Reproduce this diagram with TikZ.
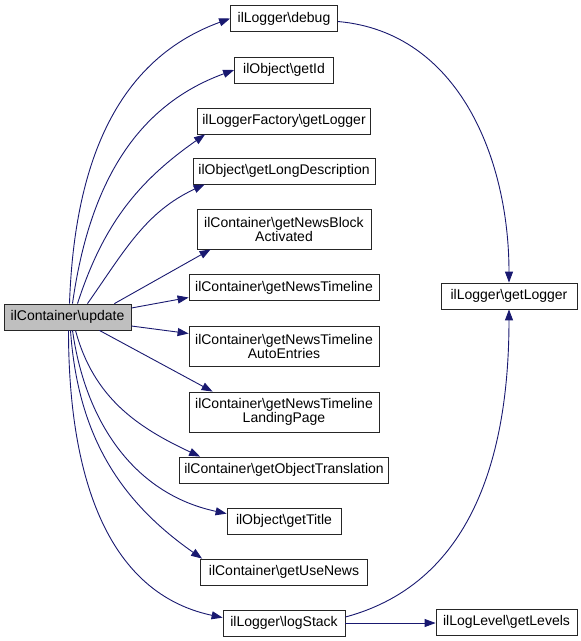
\documentclass[tikz,border=0pt]{standalone}
\usepackage{fontspec}
\setmainfont{Liberation Sans}
\usetikzlibrary{arrows.meta}
\definecolor{edgeblue}{HTML}{191970}

\begin{document}
\begin{tikzpicture}[
x=1pt, y=-1pt,
    F/.style = {rectangle, draw=black!85, fill=white,% boxes of the call graph
                line width=0.8pt, inner xsep=4pt, inner ysep=2pt,
                minimum height=26pt, align=center,
                font=\fontsize{14}{14}\selectfont},
    E/.style = {draw=edgeblue, line width=0.9pt,% calls
                -{Triangle[length=11pt,width=8pt]}},
                    ]
\useasboundingbox (0,0) rectangle (581,641);

\node[F, fill=black!25, minimum width=127pt] (update) at (67.5,317) {ilContainer\textbackslash update};

% called functions, top to bottom
\foreach \n/\y/\w/\h/\t in {
    debug/18.5/107/26/{ilLogger\textbackslash debug},
    getid/70/99/26/{ilObject\textbackslash getId},
    fac/121/173/26/{ilLoggerFactory\textbackslash getLogger},
    ld/171/182/26/{ilObject\textbackslash getLongDescription},
    nb/229/174/40/{ilContainer\textbackslash getNewsBlock\\Activated},
    nt/287.5/190/26/{ilContainer\textbackslash getNewsTimeline},
    ae/346.5/190/40/{ilContainer\textbackslash getNewsTimeline\\AutoEntries},
    lp/412/190/40/{ilContainer\textbackslash getNewsTimeline\\LandingPage},
    ot/470/209/26/{ilContainer\textbackslash getObjectTranslation},
    ti/521/114/26/{ilObject\textbackslash getTitle},
    un/572/167/26/{ilContainer\textbackslash getUseNews},
    ls/623/122/26/{ilLogger\textbackslash logStack}}
    \node[F, minimum width=\w, minimum height=\h] (\n) at (284,\y) {\t};

\node[F, minimum width=136pt] (gl) at (509,296) {ilLogger\textbackslash getLogger};
\node[F, minimum width=141pt] (lv) at (506.5,622) {ilLogLevel\textbackslash getLevels};

% calls of update
\draw[E] ([xshift=2pt]update.north) to[out=88,in=200] (debug.west);
\draw[E] ([xshift=5pt]update.north) to[out=82,in=200] (getid.west);
\draw[E] ([xshift=10pt]update.north) to[out=72,in=215] ([xshift=8pt]fac.south west);
\draw[E] ([xshift=20pt]update.north) to[out=55,in=205] ([xshift=12pt]ld.south west);
\draw[E] ([xshift=-17pt]update.north east) -- ([xshift=14pt]nb.south west);
\draw[E] ([yshift=9pt]update.east) -- ([yshift=-10pt]nt.west);
\draw[E] ([yshift=-9pt]update.east) -- ([yshift=13pt]ae.west);
\draw[E] ([xshift=-32pt]update.south east) -- ([xshift=24pt]lp.north west);
\draw[E] ([xshift=8pt]update.south) to[out=-75,in=155] ([xshift=21pt]ot.north west);
\draw[E] ([xshift=5pt]update.south) to[out=-82,in=168] ([yshift=-6pt]ti.north west);
\draw[E] ([xshift=3pt]update.south) to[out=-86,in=145] ([xshift=2pt]un.north west);
\draw[E] ([xshift=1pt]update.south) to[out=-90,in=168] ([yshift=-8pt]ls.north west);

% calls of debug and logStack
\draw[E] ([yshift=-3pt]debug.east) to[out=-5,in=90] (gl.north);
\draw[E] ([yshift=6pt]ls.east) to[out=15,in=-90] (gl.south);
\draw[E] (ls.east) -- (ls.east -| lv.west);

\end{tikzpicture}
\end{document}
